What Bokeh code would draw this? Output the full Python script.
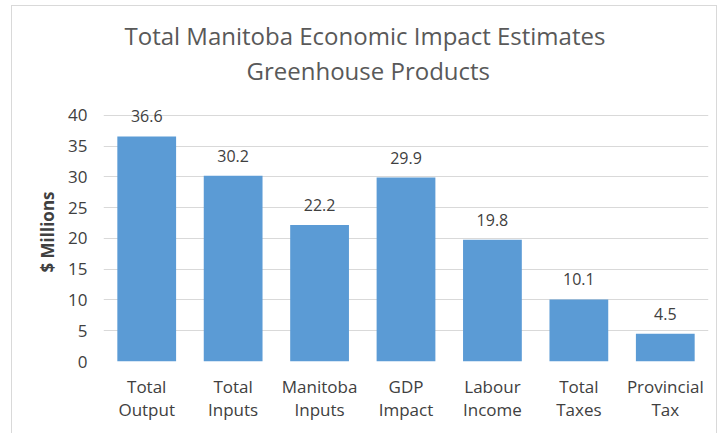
from bokeh.plotting import figure
from bokeh.models import ColumnDataSource, Title, LabelSet, Range1d, FixedTicker
from bokeh.core.properties import value
from bokeh.embed import file_html
from bokeh.resources import INLINE

categories = ["Total\nOutput", "Total\nInputs", "Manitoba\nInputs", "GDP\nImpact",
              "Labour\nIncome", "Total\nTaxes", "Provincial\nTax"]
values = [36.6, 30.2, 22.2, 29.9, 19.8, 10.1, 4.5]
value_labels = ["36.6", "30.2", "22.2", "29.9", "19.8", "10.1", "4.5"]
y_ticks = [0, 5, 10, 15, 20, 25, 30, 35, 40]
title_line1 = "Total Manitoba Economic Impact Estimates"
title_line2 = "Greenhouse Products"

FONT = "Open Sans"

src = ColumnDataSource(dict(cat=categories, val=values, lab=value_labels))

p = figure(x_range=categories, y_range=Range1d(0, 42.11), width=706, height=428,
           output_backend="svg", toolbar_location=None,
           min_border_left=91, min_border_right=10, min_border_top=96, min_border_bottom=73)

# spacer (closest to the frame), then the two title lines
p.add_layout(Title(text=" ", text_font_size="1px", standoff=13), "above")
p.add_layout(Title(text=title_line2, align="left", offset=143, text_font=FONT,
                   text_font_size="24px", text_font_style="normal",
                   text_color="#595959", standoff=0), "above")
p.add_layout(Title(text=title_line1, align="left", offset=21, text_font=FONT,
                   text_font_size="24px", text_font_style="normal",
                   text_color="#595959", standoff=0), "above")

p.vbar(x="cat", top="val", width=0.68, source=src, color="#5B9BD5", line_color=None)

labels = LabelSet(x="cat", y="val", text="lab", source=src, text_align="center",
                  text_baseline="bottom", y_offset=14, text_font=value(FONT),
                  text_font_size="16px", text_color="#404040")
p.add_layout(labels)

p.yaxis.ticker = FixedTicker(ticks=y_ticks)
p.yaxis.axis_label = "$ Millions"
p.yaxis.axis_label_text_font = FONT
p.yaxis.axis_label_text_font_size = "17px"
p.yaxis.axis_label_text_font_style = "bold"
p.yaxis.axis_label_text_color = "#404040"
p.yaxis.axis_label_standoff = 6

for ax in (p.xaxis, p.yaxis):
    ax.axis_line_color = None
    ax.major_tick_line_color = None
    ax.minor_tick_line_color = None
    ax.major_tick_out = 0
    ax.minor_tick_out = 0
    ax.major_label_text_font = FONT
    ax.major_label_text_color = "#404040"

p.yaxis.major_label_text_font_size = "17px"
p.yaxis.major_label_standoff = 16
p.xaxis.major_label_text_font_size = "17px"
p.xaxis.major_label_text_line_height = 1.035
p.xaxis.major_label_standoff = 13

p.xgrid.grid_line_color = None
p.ygrid.grid_line_color = "#d9d9d9"
p.ygrid.grid_line_width = 1
p.x_range.range_padding = 0.0
p.outline_line_color = None
p.background_fill_color = "white"
p.border_fill_color = "white"
p.styles = {"margin-left": "11px", "margin-top": "5px",
            "border-left": "1px solid #d9d9d9", "border-top": "1px solid #d9d9d9",
            "border-right": "1px solid #d9d9d9"}

open("out.html", "w").write(file_html(p, INLINE))
